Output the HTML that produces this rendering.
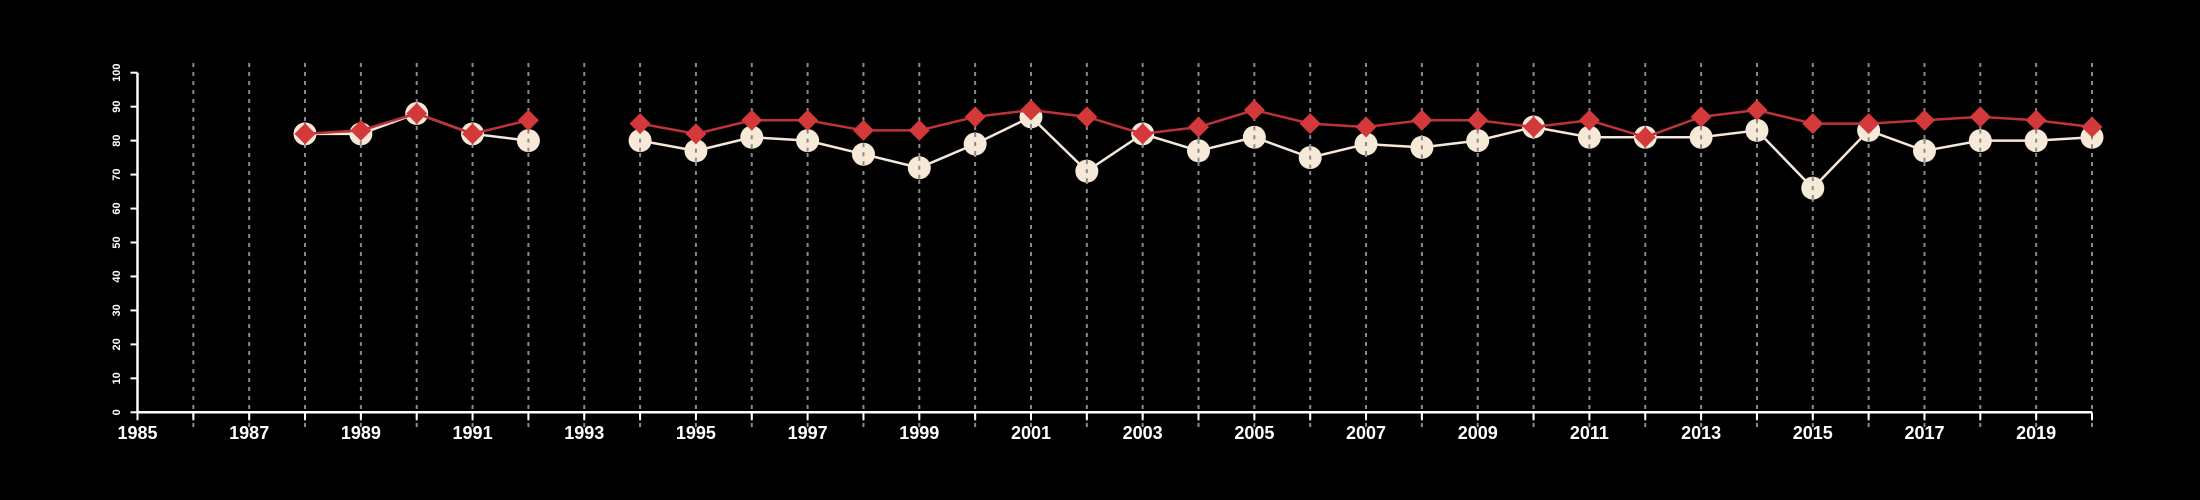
<!DOCTYPE html>
<html><head><meta charset="utf-8"><style>
html,body{margin:0;padding:0;background:#000;width:2200px;height:500px;overflow:hidden}
svg{display:block}
text{font-family:"Liberation Sans",sans-serif;fill:#fff}
</style></head><body>
<svg id="chart" width="2200" height="500" xmlns="http://www.w3.org/2000/svg"></svg>
<script>
const years = [1988,1989,1990,1991,1992,1993,1994,1995,1996,1997,1998,1999,2000,2001,2002,2003,2004,2005,2006,2007,2008,2009,2010,2011,2012,2013,2014,2015,2016,2017,2018,2019,2020];
const whiteSeries = [82,82,88,82,80,null,80,77,81,80,76,72,79,87,71,82,77,81,75,79,78,80,84,81,81,81,83,66,83,77,80,80,81];
const redSeries = [82,83,88,82,86,null,85,82,86,86,83,83,87,89,87,82,84,89,85,84,86,86,84,86,81,87,89,85,85,86,87,86,84];
const yTicks = [0,10,20,30,40,50,60,70,80,90,100];
const xLabels = [1985,1987,1989,1991,1993,1995,1997,1999,2001,2003,2005,2007,2009,2011,2013,2015,2017,2019];
const gridYears = [1986,1987,1988,1989,1990,1991,1992,1993,1994,1995,1996,1997,1998,1999,2000,2001,2002,2003,2004,2005,2006,2007,2008,2009,2010,2011,2012,2013,2014,2015,2016,2017,2018,2019,2020];

const NS="http://www.w3.org/2000/svg", svg=document.getElementById('chart');
const x0=137.5,x1=2092,y0=412.3,y1=72.7;
const xs=v=>x0+(v-1985)/(2020-1985)*(x1-x0);
const ys=v=>y0-(v/100)*(y0-y1);
function mk(t,a,p){const e=document.createElementNS(NS,t);for(const k in a)e.setAttribute(k,a[k]);(p||svg).appendChild(e);return e;}

const grid=mk('g',{});


gridYears.forEach(yr=>{const l=mk('line',{x1:xs(yr),x2:xs(yr),y1:63,y2:428,stroke:'#8a8a8a','stroke-width':2,'stroke-dasharray':'4 5'},grid);

});

const ax=mk('g',{});


mk('line',{x1:x0,x2:x0,y1:y1,y2:y0+1,stroke:'#fff','stroke-width':2.5},ax);
mk('line',{x1:x0,x2:x1,y1:y0,y2:y0,stroke:'#fff','stroke-width':2.5},ax);
yTicks.forEach(v=>{mk('line',{x1:x0-7,x2:x0,y1:ys(v),y2:ys(v),stroke:'#fff','stroke-width':2},ax);
const t=mk('text',{x:0,y:0,'font-size':11,'font-weight':'bold','text-anchor':'middle',transform:`translate(120,${ys(v)}) rotate(-90)`},ax);
t.textContent=v;

});
gridYears.concat([1985]).forEach(yr=>mk('line',{x1:xs(yr),x2:xs(yr),y1:y0,y2:y0+8,stroke:'#fff','stroke-width':2},ax));
xLabels.forEach(yr=>{const t=mk('text',{x:xs(yr),y:439,'font-size':18,'font-weight':'bold','text-anchor':'middle'},ax);
t.textContent=yr;

});

function segs(vals){const out=[];let cur=[];vals.forEach((v,i)=>{if(v==null){if(cur.length)out.push(cur);cur=[];}else cur.push([xs(years[i]),ys(v)]);});if(cur.length)out.push(cur);return out;}

const wg=mk('g',{});


const rg=mk('g',{});


segs(whiteSeries).forEach(s=>mk('polyline',{points:s.map(p=>p.join(',')).join(' '),fill:'none',stroke:'#f5e8d8','stroke-width':2.5},wg));
segs(redSeries).forEach(s=>mk('polyline',{points:s.map(p=>p.join(',')).join(' '),fill:'none',stroke:'#c0323a','stroke-width':2.5},rg));
whiteSeries.forEach((v,i)=>{if(v==null)return;const c=mk('ellipse',{cx:xs(years[i]),cy:ys(v),rx:11.5,ry:11.5,fill:'#f7e9d7'},wg);


mk('line',{x1:xs(years[i]),x2:xs(years[i]),y1:ys(v)-11,y2:ys(v)+11,stroke:'#8a8a8a','stroke-width':2,'stroke-dasharray':'4 5'},wg);});
redSeries.forEach((v,i)=>{if(v==null)return;const X=xs(years[i]),Y=ys(v),r=10.5;const d=mk('polygon',{points:`${X},${Y-r} ${X+r},${Y} ${X},${Y+r} ${X-r},${Y}`,fill:'#d3393b'},rg);

});
</script>
</body></html>
